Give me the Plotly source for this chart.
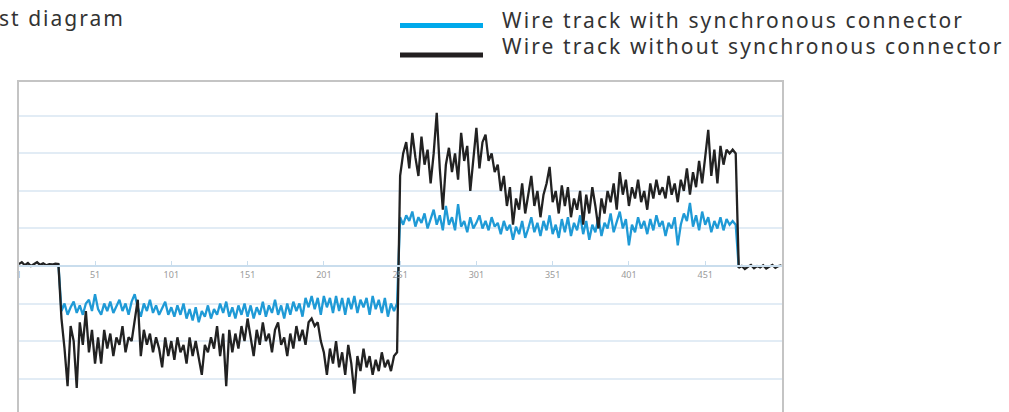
import plotly.graph_objects as go

# ---------------- data ----------------
sample = list(range(1, 502, 2))  # sample index (every 2nd sample)

black_start = [0.05, 0.10, 0.02, 0.08, 0.00, 0.06, 0.10, 0.03, 0.07, 0.02,
               0.05, 0.04, 0.06, 0.05]
black_low = [-1.4, -2.2, -3.2, -1.6, -2.0, -3.25, -1.5, -2.1, -1.2, -2.3,
             -1.7, -2.6, -1.9, -2.6, -1.7, -2.2, -1.8, -2.4, -1.9, -2.1,
             -1.6, -2.3, -1.9, -2.0, -1.5, -0.9, -2.4, -1.7, -2.1, -1.8,
             -2.3, -1.9, -2.2, -2.7, -1.9, -2.4, -2.0, -2.5, -1.9, -2.3,
             -2.1, -2.6, -1.9, -2.4, -2.0, -2.5, -2.9, -2.1, -2.3, -1.9,
             -2.2, -1.6, -2.4, -1.8, -3.2, -1.7, -2.3, -1.8, -2.2, -1.6,
             -2.0, -1.4, -1.9, -2.4, -1.7, -2.1, -1.5, -2.0, -1.8, -2.3,
             -1.7, -1.5, -2.1, -1.9, -2.4, -1.8, -2.2, -1.6, -2.0, -1.7,
             -2.1, -1.5, -1.4, -1.6, -1.5, -2.0, -2.3, -2.9, -2.2, -2.6,
             -2.0, -2.7, -2.3, -2.9, -2.1, -2.6, -3.4, -2.4, -2.8, -2.2,
             -2.7, -2.4, -2.9, -2.5, -2.8, -2.3, -2.7, -2.5, -2.8, -2.4,
             -2.3]
black_high = [2.4, 3.0, 3.3, 2.6, 3.55, 2.9, 2.4, 3.45, 2.7, 3.1,
              2.2, 3.0, 4.08, 2.6, 1.5, 2.7, 3.15, 2.5, 3.0, 2.3,
              3.55, 2.8, 3.2, 2.0, 2.9, 3.68, 2.6, 3.3, 3.5, 2.8,
              3.0, 2.5, 2.7, 2.0, 2.4, 1.6, 2.1, 1.1, 1.8, 1.5,
              2.2, 1.4, 1.9, 2.4, 1.6, 2.0, 1.3, 1.9, 2.2, 2.64,
              1.7, 2.0, 1.4, 2.15, 1.6, 2.1, 1.3, 1.8, 1.5, 2.0,
              1.1, 1.9, 1.4, 2.1, 1.6, 1.0, 1.8, 1.4, 2.0, 1.7,
              2.2, 1.5, 2.5, 1.9, 2.3, 1.6, 2.1, 1.8, 2.3, 1.7,
              2.0, 1.5, 2.2, 1.8, 2.3, 1.9, 2.1, 1.8, 2.4, 1.9,
              2.2, 1.7, 2.3, 2.0, 2.6, 1.9, 2.5, 2.1, 2.8, 2.2,
              2.9, 3.63, 2.4, 3.1, 2.2, 3.2, 2.7, 3.1, 3.0, 3.1,
              3.0]
black_end = [-0.05, 0.00, -0.08, -0.02, 0.03, -0.06, 0.00, -0.04, 0.02, -0.07,
             -0.01, 0.03, -0.05, 0.00, 0.02]

blue_start = [None] * 13 + [0.05]
blue_low = [-1.2, -1.0, -1.3, -1.1, -0.95, -1.25, -1.05, -1.3, -1.0, -0.9,
            -1.2, -0.75, -1.15, -1.3, -1.0, -1.2, -0.95, -1.25, -1.05, -0.9,
            -1.2, -1.0, -1.3, -0.95, -0.75, -1.1, -1.35, -1.0, -1.2, -0.9,
            -1.25, -1.05, -1.3, -1.1, -0.95, -1.3, -1.1, -1.35, -1.05, -1.3,
            -1.0, -1.4, -1.15, -1.45, -1.1, -1.5, -1.2, -1.35, -1.05, -1.4,
            -1.15, -1.3, -1.0, -1.25, -0.95, -1.35, -1.1, -1.4, -1.05, -1.3,
            -1.0, -1.35, -1.05, -1.4, -1.1, -1.3, -0.95, -1.35, -1.05, -1.25,
            -0.9, -1.3, -1.05, -1.4, -1.0, -1.3, -0.95, -1.2, -1.0, -1.35,
            -0.85, -1.1, -0.8, -1.15, -0.85, -1.3, -0.8, -1.1, -0.85, -1.25,
            -0.8, -1.2, -0.85, -1.3, -0.85, -1.15, -0.8, -1.25, -0.9, -1.1,
            -0.85, -1.3, -0.8, -1.15, -0.9, -1.25, -0.85, -1.35, -1.0, -1.2,
            -1.0]
blue_high = [1.3, 1.1, 1.35, 1.2, 1.45, 1.05, 1.3, 1.15, 1.4, 1.0,
             1.25, 1.5, 1.1, 1.35, 0.95, 1.6, 1.1, 1.3, 0.95, 1.65,
             1.05, 1.2, 0.9, 1.3, 1.0, 1.15, 1.35, 1.0, 1.2, 0.95,
             1.3, 1.05, 1.15, 0.85, 1.2, 0.95, 1.1, 0.7, 1.05, 0.85,
             1.2, 0.75, 1.0, 1.3, 0.9, 1.15, 0.8, 1.2, 0.95, 1.35,
             0.85, 1.1, 0.75, 1.25, 0.9, 1.3, 0.8, 1.15, 0.95, 1.35,
             0.85, 1.2, 0.7, 1.1, 0.9, 1.3, 0.8, 1.15, 1.0, 1.4,
             0.9, 1.2, 1.45, 1.0, 1.25, 0.55, 1.1, 0.9, 1.3, 1.0,
             1.2, 0.85, 1.25, 0.95, 1.35, 1.05, 1.2, 0.8, 1.15, 1.0,
             1.3, 0.55, 1.1, 1.4, 1.2, 1.68, 1.05, 1.35, 0.95, 1.45,
             1.1, 1.3, 0.9, 1.2, 1.0, 1.3, 0.95, 1.25, 1.1, 1.2,
             1.1]
blue_end = [-0.05] + [None] * 14

black_vals = black_start + black_low + black_high + black_end
blue_vals = blue_start + blue_low + blue_high + blue_end

tick_vals = [1, 51, 101, 151, 201, 251, 301, 351, 401, 451]
tick_text = ["1", "51", "101", "151", "201", "251", "301", "351", "401", "451"]

title_text = "Test diagram"
legend_names = ["Wire track with synchronous connector",
                "Wire track without synchronous connector"]

# ---------------- styling ----------------
W, H = 1009, 412
ML, MR, MT, MB = 18, 226, 81, 0
PW, PH = W - ML - MR, H - MT - MB
Y_MIN, Y_MAX = -3.89, 4.93
X_MIN, X_MAX = 0.5, 502

BLUE = "#1f9ad6"
BLACK = "#222222"
FONT = "Noto Sans"


def px(xp):
    return (xp - ML) / PW


def py(yp):
    return (H - MB - yp) / PH


def spaced(s, ls):
    return '<span style="letter-spacing:%.1fpx">%s</span>' % (ls, s)


fig = go.Figure()
fig.add_trace(go.Scatter(x=sample[:len(blue_vals)], y=blue_vals, mode="lines",
                         line=dict(color=BLUE, width=2.3), name=legend_names[0],
                         connectgaps=False, showlegend=False))
fig.add_trace(go.Scatter(x=sample[:len(black_vals)], y=black_vals, mode="lines",
                         line=dict(color=BLACK, width=2.3), name=legend_names[1],
                         showlegend=False))

shapes = [
    # plot frame (bottom edge falls below the page)
    dict(type="rect", xref="paper", yref="paper", x0=0, x1=1, y0=-0.2, y1=1,
         line=dict(color="#c4c4c4", width=2), layer="above"),
    # legend samples
    dict(type="line", xref="paper", yref="paper", x0=px(400), x1=px(483),
         y0=py(25.5), y1=py(25.5), line=dict(color="#00a9eb", width=5)),
    dict(type="line", xref="paper", yref="paper", x0=px(400), x1=px(483),
         y0=py(55), y1=py(55), line=dict(color="#231f20", width=5)),
]

annotations = [
    dict(text=spaced(title_text, 2.0), xref="paper", yref="paper", x=px(127), y=py(18),
         xanchor="right", yanchor="middle", showarrow=False,
         font=dict(family=FONT, size=21, color="#333333")),
    dict(text=spaced(legend_names[0], 2.1), xref="paper", yref="paper",
         x=px(500), y=py(20), xanchor="left", yanchor="middle", showarrow=False,
         font=dict(family=FONT, size=21, color="#333333")),
    dict(text=spaced(legend_names[1], 2.1), xref="paper", yref="paper",
         x=px(500), y=py(46), xanchor="left", yanchor="middle", showarrow=False,
         font=dict(family=FONT, size=21, color="#333333")),
]

fig.update_layout(
    width=W, height=H,
    margin=dict(l=ML, r=MR, t=MT, b=MB, pad=0),
    paper_bgcolor="white", plot_bgcolor="white",
    showlegend=False,
    shapes=shapes, annotations=annotations,
    xaxis=dict(range=[X_MIN, X_MAX], anchor="free",
               position=(0 - Y_MIN) / (Y_MAX - Y_MIN),
               showline=True, linecolor="#c9dded", linewidth=2,
               showgrid=False, zeroline=False,
               tickmode="array", tickvals=tick_vals, ticktext=tick_text,
               ticks="inside", ticklen=4, tickcolor="#c9dded", tickwidth=1,
               tickfont=dict(family=FONT, size=9, color="#9a9a9a"),
               automargin=False, fixedrange=True),
    yaxis=dict(range=[Y_MIN, Y_MAX], dtick=1, tick0=0,
               showgrid=True, gridcolor="#e2ecf5", gridwidth=1.5,
               zeroline=False, showticklabels=False, showline=False,
               automargin=False, fixedrange=True),
)

fig.write_html("out.html",
               config={"displayModeBar": False},
               post_script="document.body.style.margin='0';"
                           "document.body.style.overflow='hidden';")
